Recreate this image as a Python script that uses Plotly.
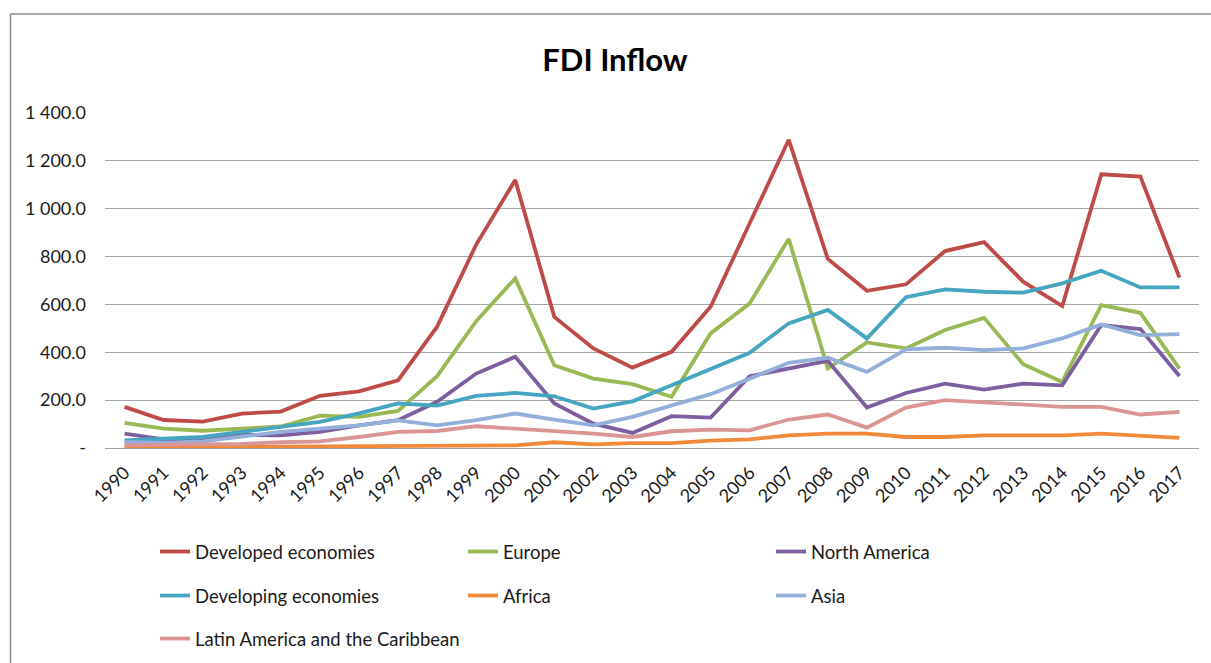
import plotly.graph_objects as go

# FDI inflows by region, 1990-2017
years = [str(y) for y in range(1990, 2018)]

developed = [172, 117, 110, 144, 152, 218, 237, 283, 507, 850, 1120, 548, 416, 336,
             402, 590, 939, 1288, 790, 657, 684, 823, 860, 695, 593, 1144, 1134, 712]
europe = [105, 81, 72, 80, 90, 135, 130, 155, 300, 530, 709, 346, 290, 267,
          214, 479, 604, 874, 332, 441, 416, 493, 544, 350, 276, 597, 565, 332]
north_america = [60, 36, 32, 55, 53, 67, 95, 116, 193, 311, 381, 186, 102, 63,
                 133, 127, 300, 332, 364, 169, 230, 269, 244, 269, 262, 514, 497, 301]
developing = [32, 39, 46, 67, 88, 109, 145, 186, 177, 218, 230, 216, 165, 195,
              262, 332, 398, 521, 577, 458, 630, 663, 653, 649, 688, 741, 671, 671]
africa = [2, 4, 4, 5, 6, 7, 7, 11, 10, 12, 11, 24, 15, 20,
          20, 31, 36, 53, 60, 60, 46, 46, 53, 53, 53, 60, 53, 42]
asia = [25, 21, 28, 46, 67, 81, 95, 115, 95, 116, 144, 119, 95, 130,
        179, 225, 290, 356, 377, 318, 412, 419, 409, 416, 458, 516, 472, 476]
latin_america = [11, 12, 16, 17, 24, 28, 46, 67, 71, 91, 81, 72, 60, 46,
                 70, 77, 74, 119, 140, 85, 169, 200, 190, 182, 172, 172, 140, 151]

y_tick_values = [0, 200, 400, 600, 800, 1000, 1200, 1400]
y_tick_labels = ["-", "200.0", "400.0", "600.0", "800.0", "1 000.0", "1 200.0", "1 400.0"]

series = [
    ("Developed economies", developed, "#BE4B48", "legend"),
    ("Europe", europe, "#98B954", "legend"),
    ("North America", north_america, "#7D5FA0", "legend"),
    ("Developing economies", developing, "#46A5C0", "legend2"),
    ("Africa", africa, "#F08A3A", "legend2"),
    ("Asia", asia, "#93AFDA", "legend2"),
    ("Latin America and the Caribbean", latin_america, "#D99694", "legend3"),
]

FONT = "Lato"
TEXT = "#1a1a1a"

fig = go.Figure()
for name, vals, color, leg in series:
    fig.add_trace(go.Scatter(
        x=years, y=vals, name=name, mode="lines",
        line=dict(color=color, width=3.8),
        legend=leg,
    ))

# plot area geometry in pixels
W, H = 1211, 663
ML, MR, MT, MB = 105, 12, 113, 215
PW = W - ML - MR
PH = H - MT - MB


def px_x(px):
    return (px - ML) / PW


def px_y(py):
    return (H - MB - py) / PH


legend_common = dict(
    orientation="h", xanchor="left", yanchor="middle",
    entrywidth=263, entrywidthmode="pixels",
    font=dict(family=FONT, size=18.5, color=TEXT),
    bgcolor="rgba(0,0,0,0)", itemwidth=30,
)

fig.update_layout(
    width=W, height=H,
    margin=dict(l=ML, r=MR, t=MT, b=MB, autoexpand=False),
    paper_bgcolor="white", plot_bgcolor="white",
    font=dict(family=FONT, color=TEXT),
    title=dict(
        text="<b>FDI Inflow</b>", x=615 / W, xref="container", xanchor="center",
        y=1 - 60 / H, yref="container", yanchor="middle",
        font=dict(family=FONT, size=31, color="#000000"),
    ),
    legend=dict(x=px_x(155), y=px_y(552), **legend_common),
    legend2=dict(x=px_x(155), y=px_y(596), **legend_common),
    legend3=dict(x=px_x(155), y=px_y(639), **legend_common),
    showlegend=True,
    xaxis=dict(
        type="category", tickangle=-45, showgrid=False, automargin=False,
        showline=True, linecolor="#a0a0a0", linewidth=1.2,
        ticks="", tickfont=dict(family=FONT, size=18, color=TEXT),
        ticklabelstandoff=6,
        range=[-0.5, len(years) - 0.5],
    ),
    yaxis=dict(
        range=[0, 1400], tickvals=y_tick_values, ticktext=y_tick_labels,
        showgrid=True, gridcolor="#a6a6a6", gridwidth=1.2, automargin=False,
        zeroline=False, showline=False, ticks="",
        ticklabelstandoff=18,
        tickfont=dict(family=FONT, size=18, color=TEXT),
    ),
    shapes=[
        # chart frame
        dict(type="line", xref="paper", yref="paper",
             x0=px_x(10.5), x1=px_x(10.5), y0=px_y(14), y1=px_y(H + 5),
             line=dict(color="#8c8c8c", width=1.5)),
        dict(type="line", xref="paper", yref="paper",
             x0=px_x(10.5), x1=px_x(W + 5), y0=px_y(14), y1=px_y(14),
             line=dict(color="#8c8c8c", width=1.5)),
    ],
)

fig.write_html("out.html")
